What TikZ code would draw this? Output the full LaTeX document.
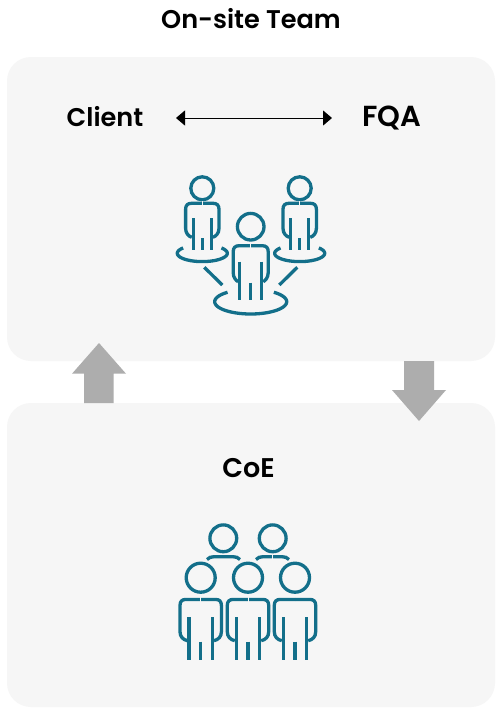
\documentclass[tikz,border=0pt]{standalone}
\usepackage{fontspec}
\setmainfont{Poppins}[UprightFont=* SemiBold]
\usetikzlibrary{arrows.meta}
\definecolor{panelc}{HTML}{F6F6F6}
\definecolor{iconc}{HTML}{136F8A}
\definecolor{flowc}{HTML}{ADADAD}
\tikzset{
  panel/.style={fill=panelc,draw=none,rounded corners=24pt},
  flowarrow/.style={fill=flowc,draw=none},
  icon/.style={draw=iconc,line width=3.3pt,line cap=butt,fill=none},
  label/.style={font=\fontsize{25.6}{30}\selectfont,text=black,inner sep=0pt,anchor=base},
  link/.style={draw=black,line width=1pt,{Triangle[length=9pt,width=15pt]}-{Triangle[length=9pt,width=15pt]}}
}
% #1 cx, #2 head cy, #3 r, #4 shoulder dy, #5 half width, #6 arm end dy, #7 leg dx, #8 leg top dy, #9 leg bottom dy
\newcommand{\figbody}[9]{%
  \draw[icon] (#1,#2) circle[radius=#3];
  \draw[icon] (#1,#2+#4) -- (#1-#5+6,#2+#4) .. controls (#1-#5+2,#2+#4) and (#1-#5,#2+#4+2) .. (#1-#5,#2+#4+6)
     -- (#1-#5,#2+#6-6) .. controls (#1-#5,#2+#6-1) and (#1-#5+3,#2+#6+2) .. (#1-#7-1.5,#2+#6+3);
  \draw[icon] (#1,#2+#4) -- (#1+#5-6,#2+#4) .. controls (#1+#5-2,#2+#4) and (#1+#5,#2+#4+2) .. (#1+#5,#2+#4+6)
     -- (#1+#5,#2+#6-6) .. controls (#1+#5,#2+#6-1) and (#1+#5-3,#2+#6+2) .. (#1+#7+1.5,#2+#6+3);
  \draw[icon] (#1-#7,#2+#8) -- (#1-#7,#2+#9);
  \draw[icon] (#1+#7,#2+#8) -- (#1+#7,#2+#9);
  \draw[icon] (#1,#2+#6+4) -- (#1,#2+#9);
}
\newcommand{\figgap}[3]{\draw[draw=panelc,line width=0.8pt] (#1,#2-2) -- (#1,#2+#3);}
% #1 cx #2 cy #3 rx #4 ry #5 angle above the horizontal at which the open top begins
\newcommand{\figbase}[5]{\draw[icon] plot[domain=180-#5:360+#5,samples=70,smooth] ({#1+#3*cos(\x)},{#2-#4*sin(\x)});}
\begin{document}
\begin{tikzpicture}[x=1pt,y=-1pt]
\useasboundingbox (0,0) rectangle (500,712);
\fill[white] (0,0) rectangle (500,712);
\path[panel] (7,57) rectangle (495,361);
\path[panel] (7,403) rectangle (495,707);
\path[flowarrow] (84,403) -- (84,373.7) -- (72,373.7) -- (99,343) -- (126,373.7) -- (113.5,373.7) -- (113.5,403) -- cycle;
\path[flowarrow] (404,361) -- (404,390) -- (392,390) -- (419,421) -- (446,390) -- (434,390) -- (434,361) -- cycle;
\node[label] (title) at (251,28) {On-site Team};
\node[label] (client) at (105,126) {Client};
\node[label,font=\fontsize{29}{30}\selectfont] (fqa) at (391.5,126) {FQA};
\node[label,font=\fontsize{27}{30}\selectfont] (coe) at (248.5,477) {CoE};
\coordinate (linkl) at (176,118);
\coordinate (linkr) at (332,118);
\draw[link] (linkl) -- (linkr);
% on-site icon
\figbody{202.3}{188.3}{11.5}{15}{16.7}{46}{9}{30}{62}
\figgap{202.3}{203.3}{3}
\figbody{299.7}{188.3}{11.5}{15}{16.7}{46}{9}{30}{62}
\figgap{299.7}{203.3}{3}
\figbody{250.7}{226.7}{13.3}{19}{17.5}{52}{11}{35}{73}
\figgap{250.7}{245.7}{3}
\figbase{202.3}{253.3}{25}{8.3}{40}
\figbase{299.7}{253.3}{25}{8.3}{40}
\figbase{250.7}{301.7}{36}{12.3}{50}
\draw[icon] (204.3,267.3) -- (222.3,285);
\draw[icon] (297.3,267.3) -- (279.3,285);
% CoE icon
\draw[icon] (223.3,538.3) circle[radius=13.4];
\draw[icon] (272.7,538.3) circle[radius=13.4];
\draw[icon] (207,559.5) .. controls (209,557.5) and (211,556.7) .. (214,556.7) -- (233,556.7) .. controls (236,556.7) and (238,557.5) .. (240,559.5);
\draw[icon] (256,559.5) .. controls (258,557.5) and (260,556.7) .. (263,556.7) -- (282,556.7) .. controls (285,556.7) and (287,557.5) .. (289,559.5);
\figgap{272.7}{556.7}{3}
\figbody{200.7}{577.7}{14.5}{21.7}{20.7}{60}{11.7}{39.7}{82.3}
\figgap{200.7}{599.4}{3}
\figbody{248}{577.7}{14.5}{21.7}{20.7}{60}{11.7}{39.7}{82.3}
\figgap{248}{599.4}{3}
\figbody{295}{577.7}{14.5}{21.7}{20.7}{60}{11.7}{39.7}{82.3}
\end{tikzpicture}
\end{document}
